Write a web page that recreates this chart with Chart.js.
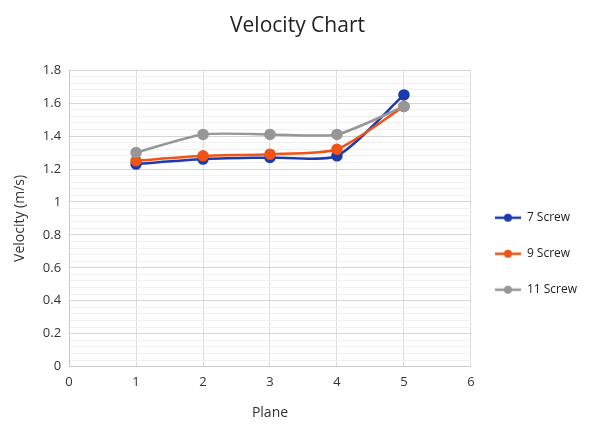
<!DOCTYPE html>
<html>
<head>
<meta charset="utf-8">
<script src="https://cdn.jsdelivr.net/npm/chart.js@4.4.0/dist/chart.umd.min.js"></script>
<style>
  html, body { margin: 0; padding: 0; background: #fff; }
  #box { width: 590px; height: 430px; }
</style>
</head>
<body>
<div id="box"><canvas id="grafVel"></canvas></div>
<script>
const planes = [1, 2, 3, 4, 5];
const screw7 = [1.23, 1.26, 1.27, 1.28, 1.65];
const screw9 = [1.25, 1.28, 1.29, 1.32, 1.58];
const screw11 = [1.30, 1.41, 1.41, 1.41, 1.58];
const nomes = ['7 Screw', '9 Screw', '11 Screw'];
const cores = ['#1c3aae', '#ef5316', '#979797'];

function pts(vals) {
    return planes.map(function(p, i) { return { x: p, y: vals[i] }; });
}

function iconeLeg(cor) {
    const c = document.createElement('canvas');
    c.width = 26; c.height = 12;
    const g = c.getContext('2d');
    g.strokeStyle = cor; g.lineWidth = 2.5;
    g.beginPath(); g.moveTo(0, 6); g.lineTo(26, 6); g.stroke();
    g.fillStyle = cor;
    g.beginPath(); g.arc(13, 6, 4, 0, Math.PI * 2); g.fill();
    return c;
}

function serie(i, vals) {
    return {
        label: nomes[i],
        data: pts(vals),
        borderColor: cores[i],
        backgroundColor: cores[i],
        borderWidth: 2.5,
        pointRadius: 4.5,
        pointHoverRadius: 5,
        tension: 0.22,
        showLine: true
    };
}

const fonte = "'Open Sans', 'DejaVu Sans', sans-serif";

const ctx = document.getElementById('grafVel').getContext('2d');
window.mGraf = new Chart(ctx, {
    type: 'scatter',
    data: {
        datasets: [serie(2, screw11), serie(1, screw9), serie(0, screw7)]
    },
    options: {
        responsive: true,
        maintainAspectRatio: false,
        animation: false,
        layout: { padding: { left: 8, right: 3, top: 4, bottom: 5 } },
        plugins: {
            title: {
                display: true,
                text: 'Velocity Chart',
                color: '#222',
                font: { family: fonte, size: 21, weight: 'normal' },
                padding: { top: 9, bottom: 32 }
            },
            tooltip: { enabled: false },
            legend: {
                position: 'right',
                align: 'center',
                title: { display: true, text: ' ', font: { size: 12 }, padding: { top: 0, bottom: 64 } },
                labels: {
                    color: '#222',
                    font: { family: fonte, size: 12 },
                    usePointStyle: true,
                    pointStyleWidth: 26,
                    padding: 24,
                    generateLabels: function(chart) {
                        return [0, 1, 2].map(function(i) {
                            return {
                                text: nomes[i],
                                pointStyle: iconeLeg(cores[i]),
                                fillStyle: cores[i],
                                strokeStyle: cores[i],
                                lineWidth: 0,
                                hidden: false,
                                datasetIndex: 2 - i,
                                fontColor: '#222'
                            };
                        });
                    }
                }
            }
        },
        scales: {
            x: {
                type: 'linear',
                min: 0,
                max: 6,
                ticks: { stepSize: 1, color: '#333', font: { family: fonte, size: 13 }, padding: 8 },
                grid: { color: '#dcdcdc', drawTicks: false },
                border: { color: '#c8c8c8' },
                title: { display: true, text: 'Plane', color: '#333', font: { family: fonte, size: 14 }, padding: { top: 6 } }
            },
            y: {
                min: 0,
                max: 1.8,
                ticks: {
                    stepSize: 0.04,
                    autoSkip: false,
                    color: '#333',
                    font: { family: fonte, size: 13 },
                    padding: 8,
                    callback: function(v) {
                        const r = Math.round(v * 100);
                        return r % 20 === 0 ? String(r / 100) : '';
                    }
                },
                grid: {
                    drawTicks: false,
                    color: function(c) {
                        const r = Math.round(c.tick.value * 100);
                        return r % 20 === 0 ? '#d6d6d6' : '#f0f0f0';
                    }
                },
                border: { color: '#c8c8c8' },
                title: { display: true, text: 'Velocity (m/s)', color: '#333', font: { family: fonte, size: 14 }, padding: { bottom: 6 } }
            }
        }
    }
});
</script>
</body>
</html>
